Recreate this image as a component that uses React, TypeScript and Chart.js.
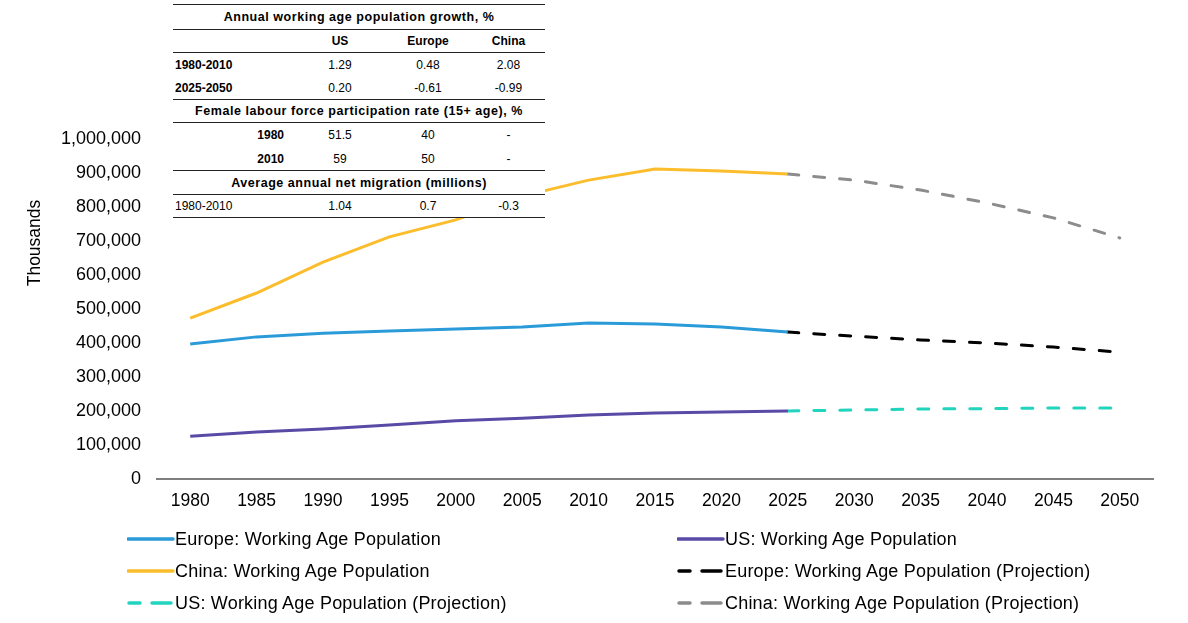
import React, { useEffect, useRef } from "react";
import { Chart, registerables } from "chart.js";

Chart.register(...registerables);

const categories = ["1980", "1985", "1990", "1995", "2000", "2005", "2010", "2015", "2020", "2025", "2030", "2035", "2040", "2045", "2050"];

const europeHist = [397000, 418000, 429000, 435000, 441000, 447000, 459000, 456000, 447000, 432000, null, null, null, null, null];
const usHist = [126000, 138000, 147000, 159000, 171000, 179000, 188000, 194000, 197000, 200000, null, null, null, null, null];
const chinaHist = [473000, 547000, 638000, 712000, 762000, 832000, 879000, 912000, 906000, 897000, null, null, null, null, null];
const europeProj = [null, null, null, null, null, null, null, null, null, 432000, 420000, 409000, 400000, 388000, 373000];
const usProj = [null, null, null, null, null, null, null, null, null, 200000, 203000, 206000, 207000, 209000, 209000];
const chinaProj = [null, null, null, null, null, null, null, null, null, 897000, 879000, 850000, 812000, 768000, 709000];

const seriesNames = [
  "Europe: Working Age Population",
  "US: Working Age Population",
  "China: Working Age Population",
  "Europe: Working Age Population (Projection)",
  "US: Working Age Population (Projection)",
  "China: Working Age Population (Projection)",
];
const seriesColors = ["#2a9bd8", "#5a4aa6", "#fbbd2b", "#000000", "#22d3be", "#8c8c8c"];
const seriesDashed = [false, false, false, true, true, true];
const seriesData = [europeHist, usHist, chinaHist, europeProj, usProj, chinaProj];

const yAxisTitle = "Thousands";
const yMax = 1000000;
const yStep = 100000;

const tableTitle1 = "Annual working age population growth, %";
const tableHeader = ["", "US", "Europe", "China"];
const growthRows = [
  ["1980-2010", "1.29", "0.48", "2.08"],
  ["2025-2050", "0.20", "-0.61", "-0.99"],
];
const tableTitle2 = "Female labour force participation rate (15+ age), %";
const femaleRows = [
  ["1980", "51.5", "40", "-"],
  ["2010", "59", "50", "-"],
];
const tableTitle3 = "Average annual net migration (millions)";
const migrationRows = [["1980-2010", "1.04", "0.7", "-0.3"]];

const FONT = '"Liberation Sans", Arial, sans-serif';

const yTitlePlugin = {
  id: "yTitlePlugin",
  afterDraw(chart: any) {
    const ctx = chart.ctx;
    ctx.save();
    ctx.translate(35, 243);
    ctx.rotate(-Math.PI / 2);
    ctx.font = `17.5px ${FONT}`;
    ctx.fillStyle = "#000";
    ctx.textAlign = "center";
    ctx.textBaseline = "middle";
    ctx.fillText(yAxisTitle, 0, 0);
    ctx.restore();
  },
};

function Swatch({ color, dashed }: { color: string; dashed: boolean }) {
  return (
    <svg width={48} height={8} style={{ display: "block" }}>
      {dashed ? (
        <>
          <line x1={2} y1={4} x2={13} y2={4} stroke={color} strokeWidth={3.5} strokeLinecap="round" />
          <line x1={25} y1={4} x2={44} y2={4} stroke={color} strokeWidth={3.5} strokeLinecap="round" />
        </>
      ) : (
        <line x1={1} y1={4} x2={46} y2={4} stroke={color} strokeWidth={3.5} strokeLinecap="round" />
      )}
    </svg>
  );
}

const colLefts = [173, 296, 384, 472];
const colWidths = [123, 88, 88, 73];

function TRow({ top, height, cells, bold, labelAlign, borderBottom }: any) {
  return (
    <div style={{ position: "absolute", left: 0, top, width: 372, height, borderBottom: borderBottom ? "1.5px solid #222" : "none", boxSizing: "border-box" }}>
      {cells.map((c: string, i: number) => (
        <div
          key={i}
          style={{
            position: "absolute",
            left: colLefts[i] - 173 + (i === 0 && labelAlign !== "right" ? 2 : 0),
            width: colWidths[i] - (i === 0 && labelAlign === "right" ? 12 : 0),
            top: 0,
            height: height,
            lineHeight: `${height}px`,
            textAlign: i === 0 ? (labelAlign === "right" ? "right" : "left") : "center",
            fontWeight: i === 0 ? (bold ? "bold" : "normal") : bold === "all" ? "bold" : "normal",
            fontSize: 12,
          }}
        >
          {c}
        </div>
      ))}
    </div>
  );
}

function TTitle({ top, height, text }: any) {
  return (
    <div
      style={{
        position: "absolute",
        left: 0,
        top,
        width: 372,
        height,
        lineHeight: `${height}px`,
        textAlign: "center",
        fontWeight: "bold",
        fontSize: 12.5,
        letterSpacing: "0.55px",
        borderBottom: "1.5px solid #222",
        boxSizing: "border-box",
      }}
    >
      {text}
    </div>
  );
}

export default function App() {
  const canvasRef = useRef<HTMLCanvasElement | null>(null);

  useEffect(() => {
    if (!canvasRef.current) return;
    const chart = new Chart(canvasRef.current, {
      type: "line",
      data: {
        labels: categories,
        datasets: seriesData.map((d, i) => ({
          label: seriesNames[i],
          data: d,
          borderColor: seriesColors[i],
          backgroundColor: seriesColors[i],
          borderWidth: 3,
          borderDash: seriesDashed[i] ? [11, 15] : [],
          borderCapStyle: seriesDashed[i] ? "round" : "butt",
          pointRadius: 0,
          tension: 0,
          spanGaps: false,
          fill: false,
        })),
      },
      options: {
        responsive: false,
        animation: false,
        layout: { padding: { top: 139, right: 35, left: 0, bottom: 0 } },
        plugins: {
          legend: { display: false },
          tooltip: { enabled: false },
        },
        scales: {
          x: {
            type: "category",
            offset: true,
            grid: { display: false, drawTicks: false },
            border: { display: true, color: "#7f7f7f", width: 2 },
            ticks: { color: "#000", font: { family: FONT, size: 17.5 }, padding: 12, maxRotation: 0, autoSkip: false },
            afterFit: (s: any) => {
              s.height = 144;
            },
          },
          y: {
            min: 0,
            max: yMax,
            grid: { display: false, drawTicks: false },
            border: { display: false },
            ticks: {
              stepSize: yStep,
              color: "#000",
              font: { family: FONT, size: 18 },
              padding: 16,
              callback: (v: any) => Number(v).toLocaleString("en-US"),
            },
            afterFit: (s: any) => {
              s.width = 157;
            },
          },
        },
      },
      plugins: [yTitlePlugin],
    } as any);
    return () => chart.destroy();
  }, []);

  const legendCols = [127, 677];
  const legendRows = [539, 571, 603];

  return (
    <div style={{ position: "absolute", left: 0, top: 0, width: 1188, height: 623, background: "#fff", fontFamily: FONT, color: "#000", overflow: "hidden" }}>
      <canvas ref={canvasRef} width={1188} height={623} style={{ position: "absolute", left: 0, top: 0, width: 1188, height: 623 }} />

      <div style={{ position: "absolute", left: 173, top: 4, width: 372, height: 214, background: "#fff", borderTop: "1.5px solid #222", boxSizing: "border-box" }}>
        <div style={{ position: "relative" }}>
          <TTitle top={0} height={25} text={tableTitle1} />
          <div style={{ position: "absolute", left: 0, top: 25, width: 372, height: 23, borderBottom: "1.5px solid #222", boxSizing: "border-box" }} />
          <TRow top={25} height={23} cells={tableHeader} bold="all" />
          <TRow top={48} height={24} cells={growthRows[0]} bold={true} />
          <TRow top={72} height={23} cells={growthRows[1]} bold={true} borderBottom={true} />
          <TTitle top={95} height={23} text={tableTitle2} />
          <TRow top={118} height={24} cells={femaleRows[0]} bold={true} labelAlign="right" />
          <TRow top={142} height={24} cells={femaleRows[1]} bold={true} labelAlign="right" borderBottom={true} />
          <TTitle top={166} height={24} text={tableTitle3} />
          <TRow top={190} height={23} cells={migrationRows[0]} bold={false} borderBottom={true} />
        </div>
      </div>

      {seriesNames.map((name, i) => {
        const col = i % 2;
        const row = Math.floor(i / 2);
        return (
          <div key={i} style={{ position: "absolute", left: legendCols[col], top: legendRows[row] - 12, height: 24, display: "flex", alignItems: "center" }}>
            <Swatch color={seriesColors[i]} dashed={seriesDashed[i]} />
            <span style={{ fontSize: 18, letterSpacing: "0.2px", whiteSpace: "nowrap", marginLeft: 0 }}>{name}</span>
          </div>
        );
      })}
    </div>
  );
}
